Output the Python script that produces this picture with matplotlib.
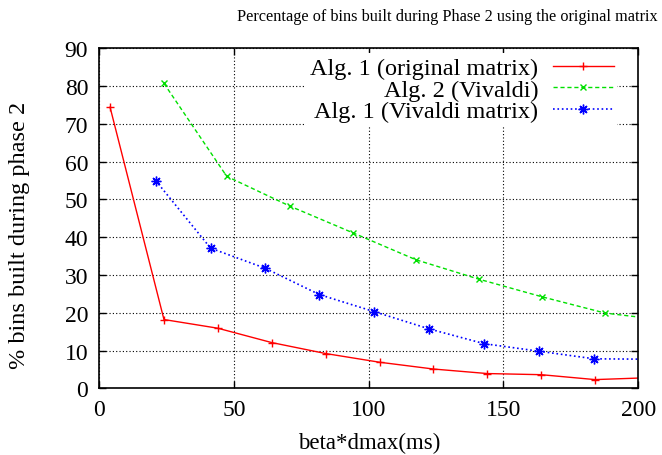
import matplotlib
matplotlib.use("Agg")
import matplotlib.pyplot as plt

plt.rcParams['font.family'] = ['Liberation Serif', 'DejaVu Serif']

# data
x_orig = [4, 24, 44, 64, 84, 104, 124, 144, 164, 184, 204]
y_orig = [74.4, 18.2, 15.9, 12.1, 9.2, 6.9, 5.1, 3.9, 3.6, 2.3, 2.8]

x_alg2 = [24, 47.3, 70.8, 94.3, 117.6, 140.8, 164.4, 187.8, 211.5]
y_alg2 = [80.7, 56.1, 48.2, 41.1, 34.0, 28.9, 24.2, 19.9, 17.9]

x_viv = [20.9, 41.3, 61.5, 81.7, 102, 122.5, 142.9, 163.3, 183.7, 204]
y_viv = [55.0, 37.1, 31.8, 24.8, 20.3, 15.7, 11.8, 9.8, 7.8, 7.7]

labels = ['Alg. 1 (original matrix)', 'Alg. 2 (Vivaldi)', 'Alg. 1 (Vivaldi matrix)']
xticks = [0, 50, 100, 150, 200]
yticks = list(range(0, 91, 10))

fig = plt.figure(figsize=(6.62, 4.56), dpi=100)
ax = fig.add_axes([0.150, 0.1463, 0.814, 0.7456])

ax.plot(x_orig, y_orig, '-', color='#ff0000', lw=1, marker='+', ms=6, mew=1, label=labels[0])
ax.plot(x_alg2, y_alg2, '--', color='#00e000', lw=1, marker='x', ms=5, mew=1,
        dashes=(3, 2), label=labels[1])
ax.plot(x_viv, y_viv, ':', color='#0000ff', lw=1.2, marker=(8, 2, 0), ms=7, mew=1,
        label=labels[2])

ax.set_xlim(0, 200)
ax.set_ylim(0, 90)
ax.set_xticks(xticks)
ax.set_yticks(yticks)
ax.tick_params(direction='in', length=5, width=1, top=True, right=True,
               labelsize=17, pad=8)
ax.grid(True, linestyle=(0, (1, 2)), color='black', lw=0.8)
for s in ax.spines.values():
    s.set_linewidth(1.2)

ax.set_xlabel('beta*dmax(ms)', fontsize=16.5, labelpad=8)
ax.set_ylabel('% bins built during phase 2', fontsize=17.5)
ax.yaxis.set_label_coords(-0.128, 0.454)
fig.text(0.676, 0.962, 'Percentage of bins built during Phase 2 using the original matrix',
         ha='center', va='center', fontsize=11.7)

leg = ax.legend(loc='upper right', bbox_to_anchor=(0.961, 0.985), markerfirst=False,
                fontsize=17.5, frameon=True, framealpha=1, edgecolor='none',
                facecolor='white', fancybox=False, handlelength=2.5,
                labelspacing=-0.02, borderpad=0.15, handletextpad=0.6, borderaxespad=0)
# right-align the legend texts like gnuplot does
col = leg._legend_box._children[-1]._children[0]
col.align = 'right'

fig.savefig('out.png', dpi=100)
